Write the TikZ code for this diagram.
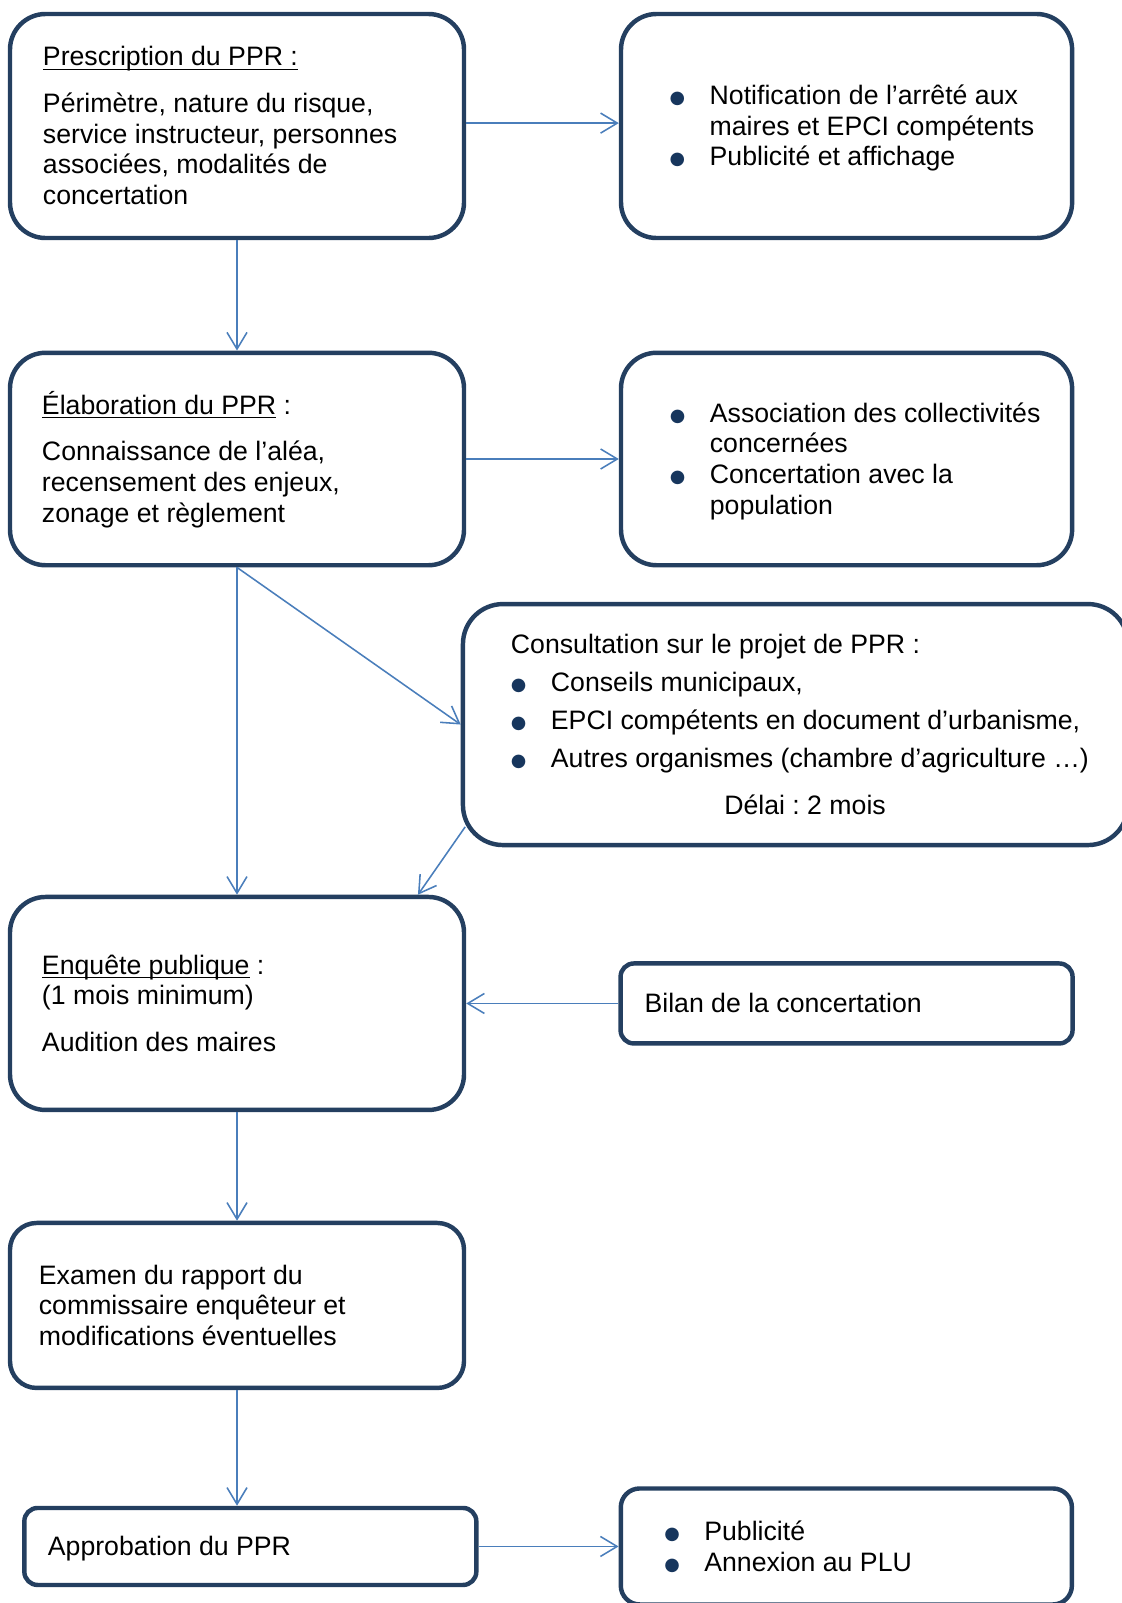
\documentclass[tikz,border=0pt]{standalone}
\usepackage{fontspec}
\setmainfont{Liberation Sans}
\newfontfamily\puces{DejaVu Sans}
\usepackage{xcolor}
\usepackage{tikz}
\usetikzlibrary{arrows.meta}
\frenchspacing

\definecolor{bleubord}{HTML}{243F60}
\definecolor{bleufleche}{HTML}{4A7EBB}
\definecolor{bleupuce}{HTML}{17365D}

\newcommand{\puce}{\makebox[18pt][l]{\raisebox{0.4pt}[0pt][0pt]{\puces\fontsize{8}{0}\selectfont\textcolor{bleupuce}{●}}}}
\newcommand{\suite}{\hspace*{18pt}}
\newcommand{\souligne}[1]{\underline{\raisebox{0pt}[\height][0pt]{#1}}}
\newcommand{\etai}{\rule[-2.6pt]{0pt}{13.5pt}}

\begin{document}
\begin{tikzpicture}[x=0.45pt, y=-0.45pt,
    boite/.style={draw=bleubord, line width=2pt, rounded corners=#1, fill=white,
      align=flush left, inner sep=0pt, font=\fontsize{12}{13.8}\selectfont},
    boite/.default=16pt,
    marge/.style={execute at begin node={\leftskip=#1\relax\etai}, execute at end node={\etai}},
    fleche/.style={draw=bleufleche, line width=0.7pt, -{Straight Barb[length=7.5pt, width=9pt]}}]
      \useasboundingbox (0,0) rectangle (1122,1603);

      % Noeuds
      \node[boite, marge=5.85pt, minimum width=204.3pt, minimum height=100.8pt, text width=186.3pt] (presc) at (237,126)
        {\souligne{Prescription du PPR :}\\[7.2pt]
         Périmètre, nature du risque,\\ service instructeur, personnes\\ associées, modalités de\\ concertation};
      \node[boite, marge=12.9pt, right of=presc, node distance=274.3pt, minimum width=203pt, minimum height=100.8pt, text width=185pt] (notif)
        {\puce Notification de l’arrêté aux\\ \suite maires et EPCI compétents\\ \puce Publicité et affichage};
      \node[boite, marge=5.4pt, below of=presc, node distance=149.85pt, minimum width=204.3pt, minimum height=95.6pt, text width=186.3pt] (elab)
        {\souligne{Élaboration du PPR} :\\[7.2pt]
         Connaissance de l’aléa,\\ recensement des enjeux,\\ zonage et règlement};
      \node[boite, marge=13pt, right of=elab, node distance=274.3pt, minimum width=203pt, minimum height=95.6pt, text width=185pt] (assoc)
        {\puce Association des collectivités\\ \suite concernées\\ \puce Concertation avec la\\ \suite population};
      \node[boite=18pt, marge=12.6pt, below of=assoc, node distance=119.5pt, xshift=-23pt, minimum width=299.25pt, minimum height=108.45pt, text width=281.25pt] (consult)
        {Consultation sur le projet de PPR :\\[3.4pt]
         \puce Conseils municipaux,\\[3.4pt]
         \puce EPCI compétents en document d’urbanisme,\\[3.4pt]
         \puce Autres organismes (chambre d’agriculture …)\\[7.3pt]
         \hspace*{96pt}Délai : 2 mois};
      \node[boite, marge=5.4pt, below of=elab, node distance=245pt, minimum width=204.3pt, minimum height=95.85pt, text width=186.3pt] (enquete)
        {\souligne{Enquête publique} :\\ (1 mois minimum)\\[7.2pt] Audition des maires};
      \node[boite=6pt, marge=1.8pt, right of=enquete, node distance=274.3pt, minimum width=203.4pt, minimum height=36pt, text width=185.4pt] (bilan)
        {Bilan de la concertation};
      \node[boite=12pt, marge=4pt, below of=enquete, node distance=135.9pt, minimum width=204.3pt, minimum height=74.25pt, text width=186.3pt] (examen)
        {Examen du rapport du\\ commissaire enquêteur et\\ modifications éventuelles};
      \node[boite=6pt, marge=1.6pt, below of=examen, node distance=108.45pt, xshift=6pt, minimum width=203.4pt, minimum height=34.65pt, text width=185.4pt] (approb)
        {Approbation du PPR};
      \node[boite=8.5pt, marge=10.6pt, right of=approb, node distance=268.2pt, minimum width=203pt, minimum height=52.2pt, text width=185pt] (publi)
        {\puce Publicité\\ \puce Annexion au PLU};

      % Flèches
      \draw[fleche] ([yshift=1.3pt]presc.east) -- ([yshift=1.3pt]notif.west);
      \draw[fleche] (presc) -- (elab);
      \draw[fleche] (elab) -- (assoc);
      \draw[fleche] (elab.south) -- (enquete.north);
      \draw[fleche] (elab.south) -- (consult.west);
      \draw[fleche] ([xshift=2pt]consult.197) -- (enquete.31);
      \draw[fleche] (bilan) -- (enquete);
      \draw[fleche] (enquete) -- (examen);
      \draw[fleche] (examen.south) -- (examen.south |- approb.north);
      \draw[fleche] (approb) -- (publi);
    \end{tikzpicture}
\end{document}
